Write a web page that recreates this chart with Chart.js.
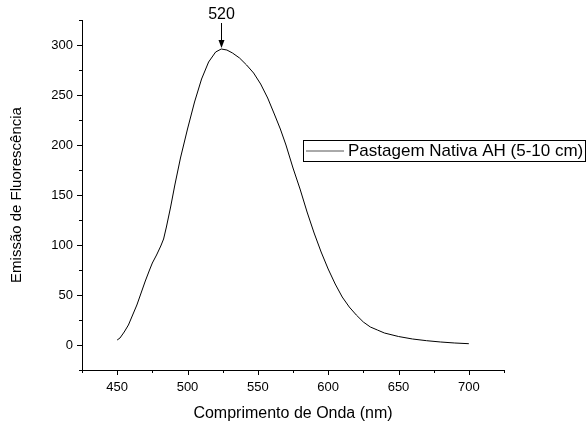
<!DOCTYPE html>
<html>
<head>
<meta charset="utf-8">
<script src="https://cdn.jsdelivr.net/npm/chart.js@4.4.0/dist/chart.umd.min.js"></script>
<style>
  html, body { margin: 0; padding: 0; background: #fff; }
  #wrap { width: 587px; height: 428px; }
</style>
</head>
<body>
<div id="wrap"><canvas id="emChart" width="587" height="428"></canvas></div>
<script>
// wavelength (nm) and fluorescence emission
const wavelengths = [450, 452, 455, 458, 461, 464, 467, 470, 473, 475, 478, 481, 483, 485, 488, 491, 495,
  500, 505, 510, 515, 520, 524, 528, 532, 537, 542, 547, 552, 557, 562, 566, 570, 575, 580, 585, 590, 595,
  600, 605, 610, 615, 620, 625, 630, 635, 640, 650, 660, 670, 680, 690, 700];
const emission = [5, 7, 13, 20, 30, 40, 52, 64, 75, 82, 90, 99, 106, 118, 138, 160, 187,
  216, 243, 266, 283, 293, 296, 295, 292, 287, 280, 272, 261, 247, 230, 216, 200, 177, 156, 133, 112, 93,
  76, 61, 48, 38, 30, 23, 18, 15, 12, 8.5, 6, 4.3, 3, 2, 1.3];
const seriesName = "Pastagem Nativa AH (5-10 cm)";
const peakLabel = "520";
const xRange = [425, 725];
const yRange = [-25, 325];

const points = wavelengths.map((w, i) => ({x: w, y: emission[i]}));
const FONT = "'Liberation Sans', Arial, sans-serif";

// ticks, peak arrow and boxed legend
const extras = {
  id: "extras",
  afterDraw(chart){
    const ctx = chart.ctx;
    const xs = chart.scales.x, ys = chart.scales.y;
    const area = chart.chartArea;
    ctx.save();
    ctx.strokeStyle = "#000";
    ctx.lineWidth = 1;
    ctx.beginPath();
    for(let v = yRange[0]; v <= yRange[1]; v += 25){
      const py = Math.round(ys.getPixelForValue(v)) + 0.5;
      const len = v % 50 === 0 ? 5 : 3;
      ctx.moveTo(area.left, py);
      ctx.lineTo(area.left - len, py);
    }
    for(let v = xRange[0]; v <= xRange[1]; v += 25){
      const px = Math.round(xs.getPixelForValue(v)) + 0.5;
      const len = v % 50 === 0 ? 5 : 3;
      ctx.moveTo(px, area.bottom);
      ctx.lineTo(px, area.bottom + len);
    }
    ctx.stroke();

    // arrow to the peak
    let k = 0;
    emission.forEach((e, i) => { if(e > emission[k]) k = i; });
    const px = Math.round(xs.getPixelForValue(wavelengths[k])) + 0.5;
    const py = ys.getPixelForValue(emission[k]);
    ctx.beginPath();
    ctx.moveTo(px, py - 26);
    ctx.lineTo(px, py - 8);
    ctx.stroke();
    ctx.fillStyle = "#000";
    ctx.beginPath();
    ctx.moveTo(px - 3, py - 9);
    ctx.lineTo(px + 3, py - 9);
    ctx.lineTo(px, py - 1);
    ctx.closePath();
    ctx.fill();
    ctx.font = "16px " + FONT;
    ctx.textAlign = "center";
    ctx.textBaseline = "middle";
    ctx.fillText(peakLabel, px, py - 34);

    // legend box
    ctx.strokeRect(303.5, 140.5, 282, 21);
    ctx.strokeStyle = "#555";
    ctx.beginPath();
    ctx.moveTo(306, 151);
    ctx.lineTo(344, 151);
    ctx.stroke();
    ctx.font = "17px " + FONT;
    ctx.textAlign = "left";
    ctx.fillStyle = "#000";
    ctx.fillText(seriesName, 348, 151.5);
    ctx.restore();
  }
};

new Chart("emChart", {
  type: "line",
  data: {
    datasets: [{
      label: seriesName,
      data: points,
      borderColor: "#000",
      borderWidth: 1,
      pointRadius: 0,
      tension: 0,
      fill: false
    }]
  },
  options: {
    responsive: false,
    animation: false,
    layout: { padding: { top: 20, right: 83, left: 0, bottom: 0 } },
    plugins: { legend: { display: false }, tooltip: { enabled: false } },
    scales: {
      x: {
        type: "linear",
        min: xRange[0], max: xRange[1],
        grid: { display: false, drawTicks: false },
        border: { display: true, color: "#000", width: 1 },
        ticks: {
          stepSize: 25, autoSkip: false, maxRotation: 0, padding: 10,
          color: "#000", font: { family: FONT, size: 13 },
          callback: v => v % 50 === 0 ? v : ""
        },
        title: {
          display: true, text: "Comprimento de Onda (nm)", color: "#000",
          font: { family: FONT, size: 16 }, padding: { top: 0, bottom: 5 }
        },
        afterFit: s => { s.height = 58; }
      },
      y: {
        min: yRange[0], max: yRange[1],
        grid: { display: false, drawTicks: false },
        border: { display: true, color: "#000", width: 1 },
        ticks: {
          stepSize: 25, autoSkip: false, padding: 9,
          color: "#000", font: { family: FONT, size: 13 },
          callback: v => v % 50 === 0 ? v : ""
        },
        title: {
          display: true, text: "Emissão de Fluorescência", color: "#000",
          font: { family: FONT, size: 15 }, padding: { top: 8, bottom: 0 }
        },
        afterFit: s => { s.width = 82; }
      }
    }
  },
  plugins: [extras]
});
</script>
</body>
</html>
